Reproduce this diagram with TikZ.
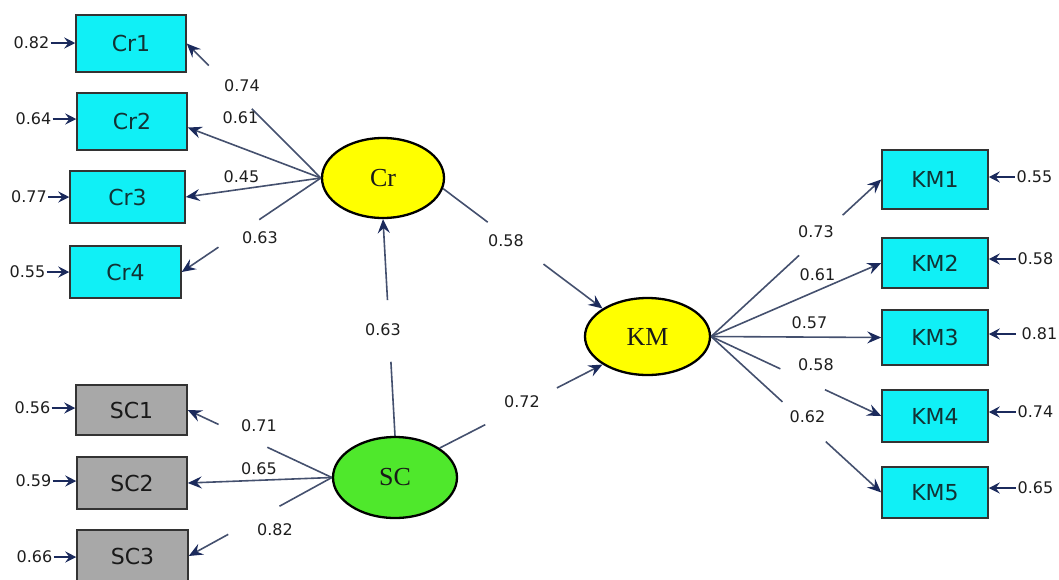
\documentclass[tikz,border=0pt]{standalone}
\usepackage{fontspec}
\setmainfont{DejaVu Sans}
\newfontfamily\latentface{Liberation Serif}
\usetikzlibrary{arrows.meta,shapes.geometric}

\definecolor{boxcyan}{HTML}{10F0F6}
\definecolor{boxgray}{HTML}{A8A8A8}
\definecolor{latyellow}{HTML}{FFFF00}
\definecolor{latgreen}{HTML}{4FE82C}
\definecolor{shaft}{HTML}{44506E}
\definecolor{navy}{HTML}{1B2A5C}
\definecolor{numtext}{HTML}{1E1E1E}
\definecolor{boxtext}{HTML}{123234}

% connector split by a gap that leaves room for its coefficient
\newcommand\splitlink[4]{%
  \path (#1) -- (#2) coordinate[pos=#3] (gapA) coordinate[pos=#4] (gapB);
  \draw[link] (#1) -- (gapA);
  \draw[link,tip] (gapB) -- (#2);}

\begin{document}
\begin{tikzpicture}[x=1pt,y=-1pt,
  ind/.style={rectangle,draw=black!80,line width=1.5pt,inner sep=0pt,
    font=\fontsize{22}{22}\selectfont,text=boxtext},
  cyanbox/.style={ind,fill=boxcyan},
  graybox/.style={ind,fill=boxgray,text=black!90},
  lat/.style={ellipse,draw=black,line width=2.3pt,inner sep=0pt,
    font=\latentface\fontsize{26}{26}\selectfont,text=black!90},
  num/.style={font=\fontsize{16}{16}\selectfont,text=numtext,inner sep=1pt},
  errnum/.style={num,inner sep=2pt},
  link/.style={draw=shaft,line width=1.6pt},
  tip/.style={-{Stealth[length=14pt,width=12pt,inset=5pt,color=navy]}},
  err/.style={draw=navy,line width=2pt,-{Stealth[length=11pt,width=11pt,inset=4pt]}}
]
\useasboundingbox (0,0) rectangle (1059,579);

% latent constructs
\node[lat,fill=latyellow,minimum width=122pt,minimum height=80pt] (Cr) at (383,178) {Cr};
\node[lat,fill=latgreen,minimum width=124pt,minimum height=81pt] (SC) at (395,477.5) {SC};
\node[lat,fill=latyellow,minimum width=125pt,minimum height=77pt] (KM) at (647.5,336.5) {KM};

% Cr indicators
\node[cyanbox,minimum width=110pt,minimum height=57pt] (Cr1) at (131,43.5) {Cr1};
\node[cyanbox,minimum width=110pt,minimum height=57pt] (Cr2) at (132,121.5) {Cr2};
\node[cyanbox,minimum width=115pt,minimum height=52pt] (Cr3) at (127.5,197) {Cr3};
\node[cyanbox,minimum width=111pt,minimum height=52pt] (Cr4) at (125.5,272) {Cr4};

% SC indicators
\node[graybox,minimum width=111pt,minimum height=50pt] (SC1) at (131.5,410) {SC1};
\node[graybox,minimum width=110pt,minimum height=52pt] (SC2) at (132,483) {SC2};
\node[graybox,minimum width=111pt,minimum height=52pt] (SC3) at (132.5,556) {SC3};

% KM indicators
\node[cyanbox,minimum width=106pt,minimum height=59pt] (KM1) at (935,179.5) {KM1};
\node[cyanbox,minimum width=106pt,minimum height=50pt] (KM2) at (935,263) {KM2};
\node[cyanbox,minimum width=106pt,minimum height=55pt] (KM3) at (935,337.5) {KM3};
\node[cyanbox,minimum width=106pt,minimum height=52pt] (KM4) at (935,416) {KM4};
\node[cyanbox,minimum width=106pt,minimum height=51pt] (KM5) at (935,492.5) {KM5};

% error terms
\node[num] (eCr1) at (31.5,43) {0.82};
\node[num] (eCr2) at (33.5,119) {0.64};
\node[num] (eCr3) at (29,197) {0.77};
\node[num] (eCr4) at (27.5,272) {0.55};
\node[num] (eSC1) at (32.5,408) {0.56};
\node[num] (eSC2) at (33.5,481) {0.59};
\node[num] (eSC3) at (34.5,557) {0.66};
\node[errnum] (eKM1) at (1034.5,177) {0.55};
\node[errnum] (eKM2) at (1035.5,259) {0.58};
\node[errnum,inner xsep=6pt] (eKM3) at (1039.5,334) {0.81};
\node[errnum] (eKM4) at (1035.5,412) {0.74};
\node[errnum] (eKM5) at (1035.5,488) {0.65};

\foreach \e/\b in {eCr1/Cr1,eCr2/Cr2,eCr3/Cr3,eCr4/Cr4,eSC1/SC1,eSC2/SC2,eSC3/SC3}
  \draw[err] (\e.east) -- (\e.east -| \b.west);
\foreach \e/\b in {eKM1/KM1,eKM2/KM2,eKM3/KM3,eKM4/KM4,eKM5/KM5}
  \draw[err] (\e.west) -- (\e.west -| \b.east);

% Cr loadings
\splitlink{Cr.west}{Cr1.east}{0.515}{0.836}
\draw[link,tip] (Cr.west) -- ([yshift=-6pt]Cr2.east);
\draw[link,tip] (Cr.west) -- (Cr3.east);
\splitlink{Cr.west}{Cr4.east}{0.443}{0.736}
\node[num] (lCr1) at (242,86) {0.74};
\node[num] (lCr2) at (240.5,118) {0.61};
\node[num] (lCr3) at (241.5,177) {0.45};
\node[num] (lCr4) at (260,238) {0.63};

% SC loadings
\splitlink{SC.west}{SC1.east}{0.448}{0.786}
\draw[link,tip] (SC.west) -- (SC2.east);
\splitlink{SC.west}{SC3.east}{0.366}{0.724}
\node[num] (lSC1) at (259,426) {0.71};
\node[num] (lSC2) at (259,469) {0.65};
\node[num] (lSC3) at (275,530) {0.82};

% structural paths
\splitlink{SC.north}{Cr.south}{0.342}{0.626}
\node[num] (lSCCr) at (383,330) {0.63};
\splitlink{SC.north east}{KM.south west}{0.28}{0.72}
\node[num] (lSCKM) at (522,402) {0.72};
\splitlink{Cr.-10}{KM.north west}{0.28}{0.63}
\node[num] (lCrKM) at (506,241) {0.58};

% KM loadings
\splitlink{KM.east}{KM1.west}{0.517}{0.773}
\draw[link,tip] (KM.east) -- (KM2.west);
\draw[link,tip] (KM.east) -- (KM3.west);
\splitlink{KM.east}{KM4.west}{0.407}{0.669}
\splitlink{KM.east}{KM5.west}{0.419}{0.674}
\node[num] (lKM1) at (816,232) {0.73};
\node[num] (lKM2) at (817.5,275) {0.61};
\node[num] (lKM3) at (809.5,323) {0.57};
\node[num] (lKM4) at (816,365) {0.58};
\node[num] (lKM5) at (807.5,417) {0.62};
\end{tikzpicture}
\end{document}
